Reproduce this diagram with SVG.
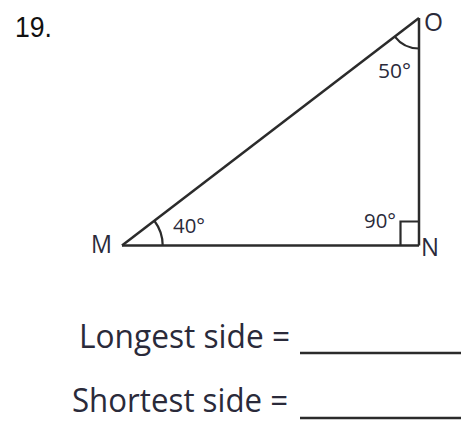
<svg xmlns="http://www.w3.org/2000/svg" width="461" height="421" viewBox="0 0 461 421">
  <style>
    .edge { fill: none; stroke: #2b2b2b; stroke-width: 2.5; stroke-linejoin: miter; }
    .mark { fill: none; stroke: #2b2b2b; stroke-width: 2.2; }
    .lbl { font-family: "Open Sans", "Liberation Sans", Arial, sans-serif; fill: #2a2a3a; }
    .vert { font-size: 25px; }
    .ang { font-size: 20px; }
    .q { font-size: 32px; }
    .blank { stroke: #2b2b2b; stroke-width: 2.5; }
  </style>
  <rect width="461" height="421" fill="#ffffff"/>
  <text id="number" x="15" y="37" style="font-family:'Liberation Sans',Arial,sans-serif;font-size:29px;fill:#111;" textLength="37" lengthAdjust="spacingAndGlyphs">19.</text>

  <g id="connectors">
    <line id="side-MN" class="edge" x1="122" y1="245.5" x2="419" y2="245.5"/>
    <line id="side-NO" class="edge" x1="419" y1="245.5" x2="419" y2="18"/>
    <line id="side-MO" class="edge" x1="122" y1="245.5" x2="419" y2="18"/>
  </g>

  <g id="node-M">
    <path class="mark" d="M 162.7 245.5 A 41 41 0 0 0 154.5 221"/>
    <text class="lbl vert" x="91" y="253" textLength="21" lengthAdjust="spacingAndGlyphs">M</text>
    <text class="lbl ang" x="173" y="233" textLength="32" lengthAdjust="spacingAndGlyphs">40°</text>
  </g>
  <g id="node-N">
    <polyline class="mark" points="400.5,245.5 400.5,221.5 419,221.5"/>
    <text class="lbl vert" x="421" y="256" textLength="18" lengthAdjust="spacingAndGlyphs">N</text>
    <text class="lbl ang" x="364" y="228" textLength="32" lengthAdjust="spacingAndGlyphs">90°</text>
  </g>
  <g id="node-O">
    <path class="mark" d="M 419 48.5 A 30.5 30.5 0 0 1 394.8 36.6"/>
    <text class="lbl vert" x="424" y="31" textLength="19" lengthAdjust="spacingAndGlyphs">O</text>
    <text class="lbl ang" x="378" y="78" textLength="33" lengthAdjust="spacingAndGlyphs">50°</text>
  </g>

  <g id="questions">
    <text class="lbl q" x="79" y="348" textLength="211" lengthAdjust="spacingAndGlyphs">Longest side =</text>
    <line class="blank" x1="300" y1="353" x2="461" y2="353"/>
    <text class="lbl q" x="72" y="412" textLength="216" lengthAdjust="spacingAndGlyphs">Shortest side =</text>
    <line class="blank" x1="300" y1="418" x2="461" y2="418"/>
  </g>
</svg>
